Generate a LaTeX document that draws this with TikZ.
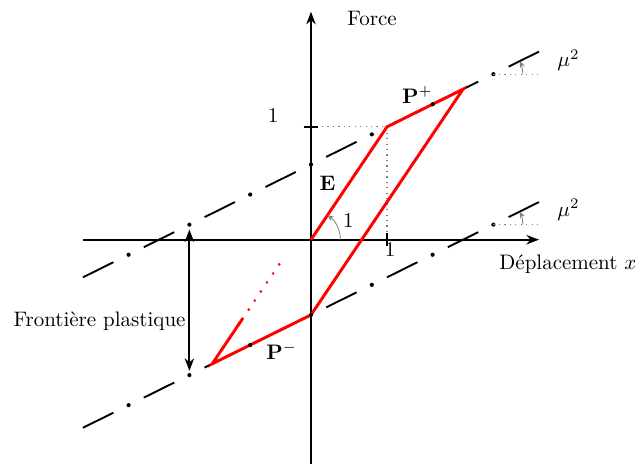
\documentclass[tikz,border=0pt]{standalone}
\usepackage{amsmath,amssymb}
\usepackage{tikz}
\usetikzlibrary{arrows.meta,calc}

\begin{document}
\begin{tikzpicture}[x=1.273cm,y=1.89cm,
  lbl/.style={inner sep=0pt},
  axe/.style={line width=0.9pt,-{Stealth[length=6pt,width=4.5pt]}},
  seuil/.style={line width=0.9pt},
  cycle/.style={red,line width=1.4pt},
  repere/.style={gray,dotted,line width=0.6pt},
  angle/.style={gray,line width=0.4pt,-{Stealth[length=3pt,width=2.5pt]}}]
\useasboundingbox (-4.092,-1.982) rectangle (4.263,2.124);
% points of the cycle
\coordinate (O) at (0,0);
\coordinate (A) at (1,1);
\coordinate (Pp) at (2,4/3);
\coordinate (Q) at (0,-2/3);
\coordinate (Pm) at (-1.3,-1.1);
\coordinate (R) at (-0.9,-0.7);
\coordinate (S) at (-0.4,-0.2);
\coordinate (Fh) at (-1.6,2/15);
\coordinate (Fb) at (-1.6,-1.2);
\coordinate (Mh) at (2.4,22/15);
\coordinate (Mb) at (2.4,2/15);
% axes
\draw[axe] (-3,0) -- (3,0);
\draw[axe] (0,-2) -- (0,2.02);
\node[lbl,anchor=base west] at (2.474,-0.265) {D\'eplacement $x$};
\node[lbl] at (0.803,1.962) {Force};
% unit ticks
\draw[repere] (0,1) -- (A) -- (1,0);
\draw[line width=0.9pt] ([xshift=-3.5pt]0,1) -- ([xshift=3.5pt]0,1);
\draw[line width=0.9pt] ([yshift=-3pt]1,0) -- ([yshift=3pt]1,0);
\node[lbl,anchor=base] at (-0.5,1.042) {1};
\node[lbl,anchor=base] at (1.04,-0.148) {1};
% plastic boundaries (slope mu^2)
\foreach \k in {0,...,7} {
  \pgfmathsetmacro\a{-3+0.8*\k}
  \draw[seuil] (\a,{(\a+2)/3}) -- ({\a+0.4},{(\a+2.4)/3});
  \draw[seuil] (\a,{(\a-2)/3}) -- ({\a+0.4},{(\a-1.6)/3});
}
% cycle
\draw[cycle] (O) -- (A) -- (Pp) -- (Q) -- (Pm) -- (R);
\draw[cycle,line cap=round,dash pattern=on 0pt off 5.2pt] (R) -- (S);
\foreach \k in {-3,...,3} {
  \fill ({0.8*\k},{(0.8*\k+2)/3}) circle(1pt);
  \fill ({0.8*\k},{(0.8*\k-2)/3}) circle(1pt);
}
% angles
\draw[angle] ([xshift=14pt]O) arc[start angle=0,end angle=56,radius=14pt];
\node[lbl,anchor=base] at (0.493,0.109) {1};
\draw[repere] (Mh) -- (3,22/15);
\draw[repere] (Mb) -- (3,2/15);
\draw[angle] ([xshift=14pt]Mh) arc[start angle=0,end angle=26,radius=14pt];
\draw[angle] ([xshift=14pt]Mb) arc[start angle=0,end angle=26,radius=14pt];
\node[lbl,anchor=base west] at (3.237,1.531) {$\mu^2$};
\node[lbl,anchor=base west] at (3.237,0.206) {$\mu^2$};
% labels
\node[lbl,anchor=base west] at (1.193,1.21) {$\mathbf{P}^+$};
\node[lbl,anchor=base west] at (-0.592,-1.062) {$\mathbf{P}^-$};
\node[lbl,anchor=base west] at (0.109,0.436) {$\mathbf{E}$};
% plastic frontier
\draw[line width=0.9pt,{Stealth[length=6pt,width=4.5pt]}-{Stealth[length=6pt,width=4.5pt]},shorten <=2.3pt,shorten >=2pt] (Fh) -- (Fb);
\node[lbl,anchor=base east] at (-1.645,-0.773) {Fronti\`ere plastique};
\end{tikzpicture}
\end{document}
